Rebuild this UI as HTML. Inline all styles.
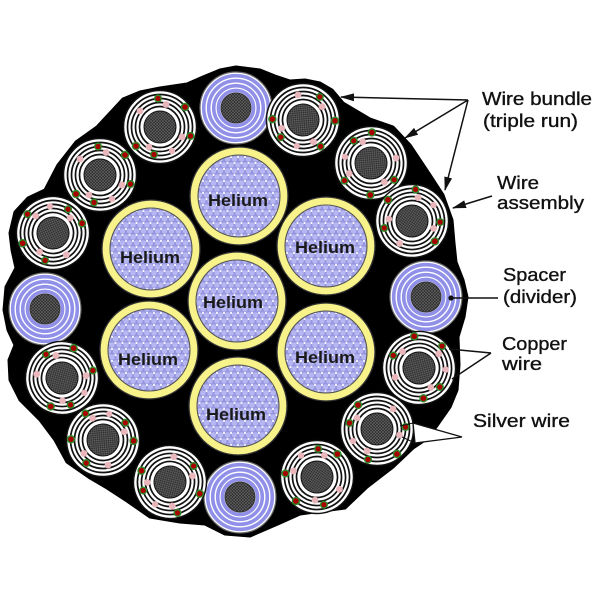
<!DOCTYPE html>
<html><head><meta charset="utf-8"><style>
html,body{margin:0;padding:0;background:#fff;}
svg{display:block;}
text{font-family:"Liberation Sans",Arial,sans-serif;}
</style></head><body>
<svg width="600" height="600" viewBox="0 0 600 600" xmlns="http://www.w3.org/2000/svg">
<defs>
<pattern id="hatch" width="3" height="3" patternUnits="userSpaceOnUse">
<rect width="3" height="3" fill="#2c2c2c"/>
<path d="M0,0L3,3M3,0L0,3" stroke="#666" stroke-width="0.6"/>
</pattern>
<pattern id="bub" width="7" height="12" patternUnits="userSpaceOnUse">
<rect width="7" height="12" fill="#9898e2"/>
<g fill="#b6b6f2" stroke="#8a8ad6" stroke-width="0.5">
<circle cx="3.5" cy="3" r="3.1"/><circle cx="0" cy="9" r="3.1"/><circle cx="7" cy="9" r="3.1"/>
</g>
<g fill="#f6f6ff">
<circle cx="3.5" cy="7" r="1.1"/><circle cx="0" cy="1" r="1.1"/><circle cx="7" cy="1" r="1.1"/>
</g>
</pattern>
<g id="wire">
<circle r="36.5" fill="#fff" stroke="#111" stroke-width="1.5"/>
<g fill="none" stroke="#111" stroke-width="1.7">
<circle r="32.5"/><circle r="28.5"/><circle r="24.5"/><circle r="20.5"/>
</g>
<circle r="16" fill="url(#hatch)" stroke="#111" stroke-width="1"/>
<g fill="#e8b6bb">
<circle cx="-20" cy="-16" r="3.4"/><circle cx="6" cy="-22.5" r="3.4"/><circle cx="22" cy="10" r="3.4"/><circle cx="-11" cy="20" r="3.4"/><circle cx="12" cy="24" r="3.2"/>
</g>
<g fill="#a80000" stroke="#2f8a2a" stroke-width="1.4">
<circle cx="-2" cy="-28.5" r="3.3"/><circle cx="25" cy="-20" r="3.5"/><circle cx="-24" cy="19" r="3.5"/><circle cx="-6" cy="27.5" r="3.3"/><circle cx="30.5" cy="9" r="3.3"/>
</g>
</g>
<g id="spacer">
<circle r="36" fill="#fff" stroke="#666" stroke-width="1.2"/>
<g fill="none" stroke="#9090e8" stroke-width="3.6">
<circle r="32.3"/><circle r="27.3"/><circle r="22.3"/><circle r="17.6"/>
</g>
<circle r="15" fill="url(#hatch)" stroke="#333" stroke-width="1"/>
</g>
<marker id="ah" viewBox="0 0 14 8" refX="13" refY="4" markerWidth="14" markerHeight="8" markerUnits="userSpaceOnUse" orient="auto">
<path d="M0,0L14,4L0,8z" fill="#111"/>
</marker>
</defs>

<rect width="600" height="600" fill="#fff"/>

<!-- black blob -->
<polygon fill="#000" stroke="#000" stroke-width="3" stroke-linejoin="round" points="236,67 260,70 275,76 290,81 305,80 320,83 332,90 343,103 370,119 393,127 410,145 430,175 443,195 452,220 454,243 456,262 463,280 467,297 464,317 458,337 459,365 457,390 450,407 436,427 425,440 413,448 393,467 367,487 345,508 300,514 280,523 250,536 225,534 205,524 180,522 150,517 127,501 107,488 90,478 67,462 55,440 40,420 20,400 10,380 9,360 15,345 8,330 4,310 6,287 16,268 12,250 10,233 15,212 28,198 45,190 58,165 76,142 97,127 123,99 140,92 160,88 187,84 203,77 220,70"/>

<!-- spacers -->
<use href="#spacer" transform="translate(236,108)"/>
<use href="#spacer" transform="translate(426,297)"/>
<use href="#spacer" transform="translate(240,497)"/>
<use href="#spacer" transform="translate(45,309)"/>

<!-- wires -->
<use href="#wire" transform="translate(160,127) rotate(0)"/>
<use href="#wire" transform="translate(100,175) rotate(0)"/>
<use href="#wire" transform="translate(53,233) rotate(200)"/>
<use href="#wire" transform="translate(303,120) rotate(40)"/>
<use href="#wire" transform="translate(371,163) rotate(130)"/>
<use href="#wire" transform="translate(412,221) rotate(260)"/>
<use href="#wire" transform="translate(419,368) rotate(300)"/>
<use href="#wire" transform="translate(377,429) rotate(90)"/>
<use href="#wire" transform="translate(317,477) rotate(170)"/>
<use href="#wire" transform="translate(170,482) rotate(60)"/>
<use href="#wire" transform="translate(103,440) rotate(220)"/>
<use href="#wire" transform="translate(62,378) rotate(330)"/>

<!-- helium -->
<g stroke="#333" stroke-width="1.3">
<circle cx="239" cy="196" r="49" fill="#f7f28a"/>
<circle cx="151" cy="249" r="49" fill="#f7f28a"/>
<circle cx="326" cy="246" r="49" fill="#f7f28a"/>
<circle cx="237" cy="301" r="49" fill="#f7f28a"/>
<circle cx="149" cy="350" r="49" fill="#f7f28a"/>
<circle cx="326" cy="352" r="49" fill="#f7f28a"/>
<circle cx="238" cy="406" r="49" fill="#f7f28a"/>
</g>
<g stroke="#555" stroke-width="1.1" fill="url(#bub)">
<circle cx="239" cy="196" r="41"/>
<circle cx="151" cy="249" r="41"/>
<circle cx="326" cy="246" r="41"/>
<circle cx="237" cy="301" r="41"/>
<circle cx="149" cy="350" r="41"/>
<circle cx="326" cy="352" r="41"/>
<circle cx="238" cy="406" r="41"/>
</g>
<g font-size="17" font-weight="bold" fill="#1a1a1a" text-anchor="middle">
<text x="238" y="206" textLength="60" lengthAdjust="spacingAndGlyphs">Helium</text>
<text x="150" y="263" textLength="60" lengthAdjust="spacingAndGlyphs">Helium</text>
<text x="325" y="253" textLength="60" lengthAdjust="spacingAndGlyphs">Helium</text>
<text x="233" y="308" textLength="60" lengthAdjust="spacingAndGlyphs">Helium</text>
<text x="148" y="365" textLength="60" lengthAdjust="spacingAndGlyphs">Helium</text>
<text x="325" y="363" textLength="60" lengthAdjust="spacingAndGlyphs">Helium</text>
<text x="236" y="420" textLength="60" lengthAdjust="spacingAndGlyphs">Helium</text>
</g>

<!-- arrows / leader lines -->
<g stroke="#111" stroke-width="1.5" fill="none">
<line x1="468" y1="100" x2="341" y2="97" marker-end="url(#ah)"/>
<line x1="468" y1="100" x2="405" y2="138" marker-end="url(#ah)"/>
<line x1="468" y1="100" x2="445" y2="190" marker-end="url(#ah)"/>
<line x1="492" y1="196" x2="453" y2="208" marker-end="url(#ah)"/>
<line x1="451" y1="298" x2="498" y2="298"/>
<line x1="491" y1="353" x2="449" y2="349"/>
<line x1="491" y1="353" x2="452" y2="379"/>
</g>
<circle cx="451" cy="298" r="2.6" fill="#111"/>
<polygon points="462,437 413,423 415,443" fill="#fff" stroke="#111" stroke-width="1.3" stroke-linejoin="miter"/>
<g stroke="#111" stroke-width="1.1">
<line x1="413" y1="423" x2="400" y2="426"/>
<line x1="415" y1="443" x2="402" y2="437"/>
</g>

<!-- labels -->
<g font-size="18.5" fill="#111" stroke="#111" stroke-width="0.35">
<text x="482" y="105" textLength="110" lengthAdjust="spacingAndGlyphs">Wire bundle</text>
<text x="483" y="127" textLength="95" lengthAdjust="spacingAndGlyphs">(triple run)</text>
<text x="497" y="189" textLength="42" lengthAdjust="spacingAndGlyphs">Wire</text>
<text x="497" y="209" textLength="87" lengthAdjust="spacingAndGlyphs">assembly</text>
<text x="503" y="281" textLength="63" lengthAdjust="spacingAndGlyphs">Spacer</text>
<text x="503" y="303" textLength="74" lengthAdjust="spacingAndGlyphs">(divider)</text>
<text x="502" y="350" textLength="65" lengthAdjust="spacingAndGlyphs">Copper</text>
<text x="502" y="370" textLength="40" lengthAdjust="spacingAndGlyphs">wire</text>
<text x="473" y="427" textLength="97" lengthAdjust="spacingAndGlyphs">Silver wire</text>
</g>
</svg>
</body></html>
